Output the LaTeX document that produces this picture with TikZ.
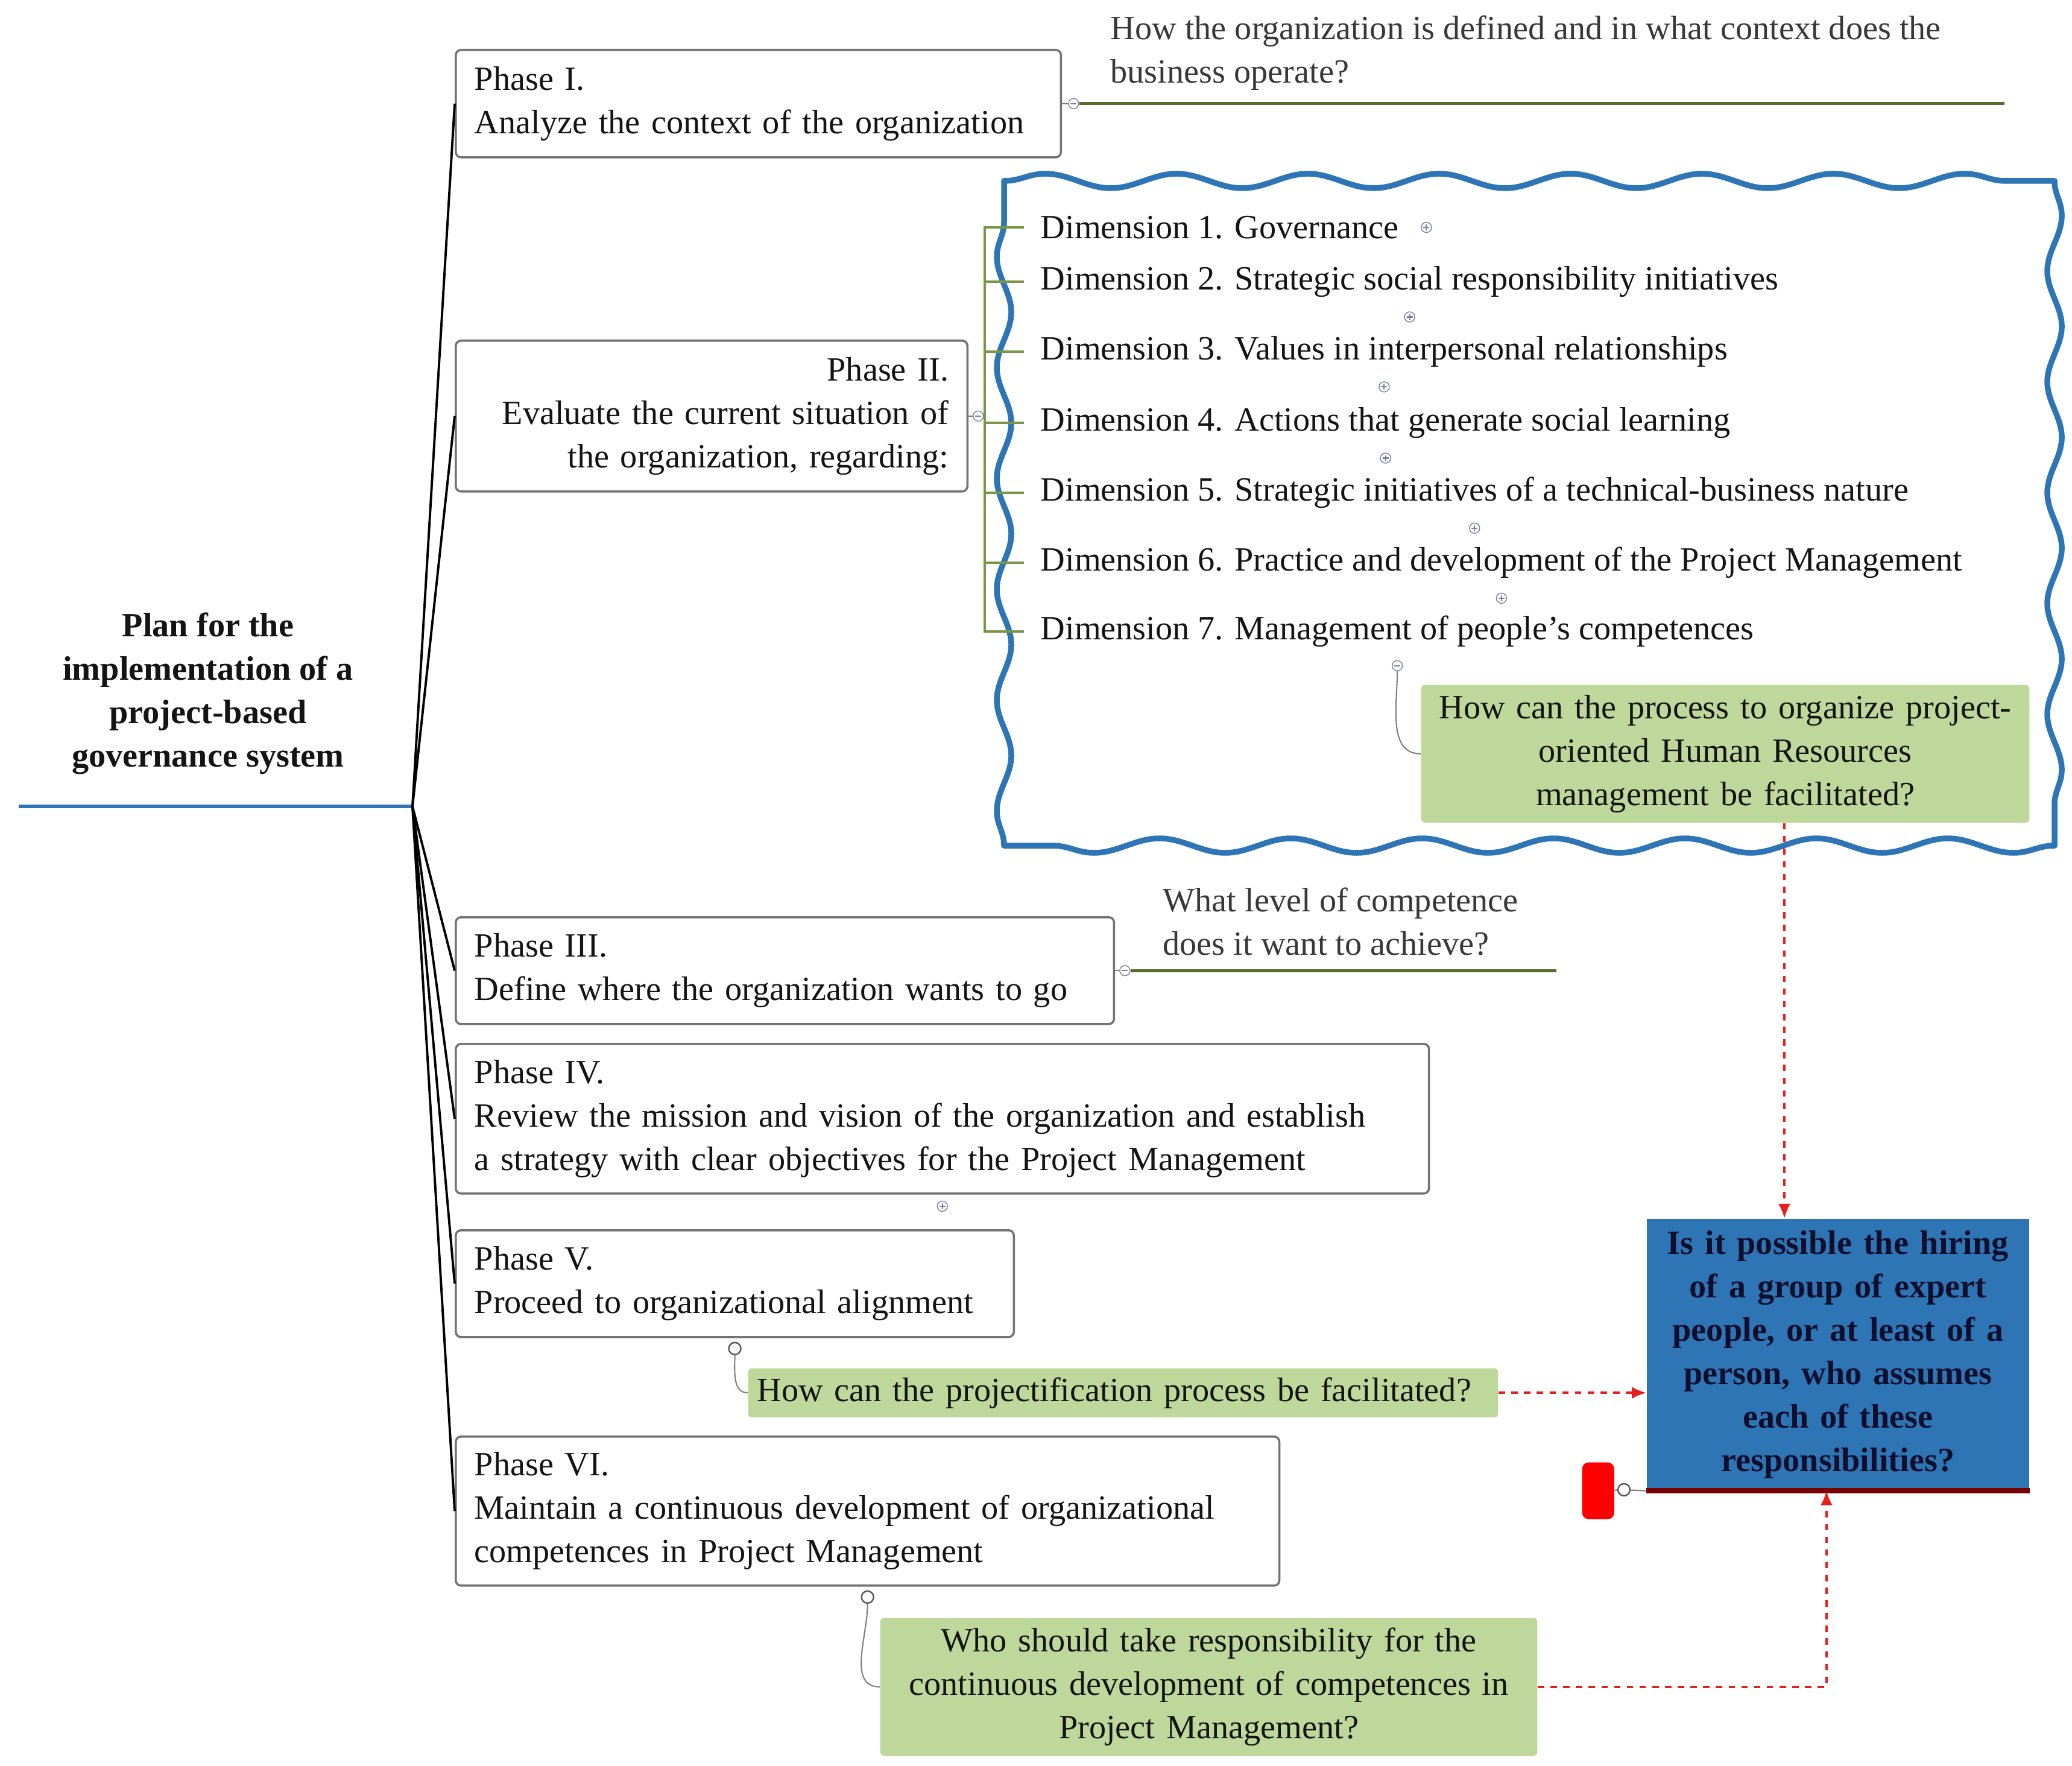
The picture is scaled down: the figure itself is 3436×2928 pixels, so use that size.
\documentclass[tikz,border=0pt]{standalone}
\usepackage{fontspec}
\setmainfont{Liberation Serif}
\usetikzlibrary{positioning,decorations.pathmorphing,arrows.meta}

\definecolor{mapblue}{RGB}{46,117,182}
\definecolor{qgreen}{RGB}{190,215,155}
\definecolor{notegreen}{RGB}{84,108,44}
\definecolor{brackgreen}{RGB}{120,150,70}
\definecolor{linkred}{RGB}{232,30,30}
\definecolor{deepred}{RGB}{120,0,0}
\definecolor{navytext}{RGB}{15,15,45}
\definecolor{boxedge}{RGB}{115,115,115}
\definecolor{markgray}{RGB}{120,130,160}
\newcommand\mapfont{\fontsize{16}{20.5}\selectfont}

\begin{document}
\begin{tikzpicture}[x=0.01cm, y=-0.01cm,
  every node/.style={font=\mapfont, text=black!92},
  phase/.style={draw=boxedge, line width=1pt, rounded corners=2.5pt, fill=white, anchor=north west, inner xsep=0.31cm, inner ysep=0pt, align=left},
  question/.style={fill=qgreen, rounded corners=1.5pt, anchor=north west, inner xsep=0.15cm, inner ysep=0pt, align=center},
  note/.style={anchor=south west, inner sep=0pt, align=left, text=black!78},
  dim/.style={anchor=west, inner xsep=0.27cm, inner ysep=0.03cm},
  hubline/.style={draw, line width=1.1pt},
  brack/.style={draw=brackgreen, line width=0.9pt},
  underl/.style={draw=notegreen, line width=1.5pt},
  link/.style={draw=linkred, dashed, line width=1pt, -{Latex[length=2.4mm,width=2mm]}},
  stem/.style={draw=gray, line width=0.6pt},
  plusmark/.style={circle, draw=markgray, fill=white, inner sep=0pt, minimum size=0.17cm, line width=0.4pt,
    path picture={\draw[markgray, line width=0.6pt] ([xshift=-0.05cm]path picture bounding box.center) -- ([xshift=0.05cm]path picture bounding box.center)
      ([yshift=-0.05cm]path picture bounding box.center) -- ([yshift=0.05cm]path picture bounding box.center);}},
  minusmark/.style={circle, draw=markgray, fill=white, inner sep=0pt, minimum size=0.17cm, line width=0.4pt,
    path picture={\draw[markgray, line width=0.6pt] ([xshift=-0.05cm]path picture bounding box.center) -- ([xshift=0.05cm]path picture bounding box.center);}},
  openmark/.style={circle, draw=black!65, fill=white, inner sep=0pt, minimum size=0.2cm, line width=0.7pt},
  wavy/.style={draw=mapblue, line width=2.7pt, line cap=round, decorate, decoration={snake, amplitude=0.12cm, segment length=#1}}]
\useasboundingbox (0,0) rectangle (3436,2928);

% dimensions frame
\coordinate (fr1) at (1665,300);
\coordinate (fr2) at (3407,300);
\coordinate (fr3) at (3407,1402);
\coordinate (fr4) at (1665,1402);
\draw[wavy=2.1775cm] (fr1) -- (fr2);
\draw[wavy=1.8367cm] (fr2) -- (fr3);
\draw[wavy=2.1775cm] (fr3) -- (fr4);
\draw[wavy=1.8367cm] (fr4) -- (fr1);

% root
\node[font=\mapfont\bfseries, align=center] (root) at (345,1150) {Plan for the\\implementation of a\\project-based\\governance system};
\coordinate (rootend) at (31,1337);
\coordinate (hub) at (684,1337);
\path[draw=mapblue, line width=1.9pt] (rootend) -- (hub);

% phases
\node[phase, text width=9.41cm, minimum height=1.78cm] (ph1) at (754,81) {Phase I.\\Analyze the context of the organization};
\node[phase, text width=7.86cm, minimum height=2.5cm, align=right] (ph2) at (754,563) {Phase II.\\Evaluate the current situation of\\the organization, regarding:};
\node[phase, text width=10.29cm, minimum height=1.77cm] (ph3) at (754,1519) {Phase III.\\Define where the organization wants to go};
\node[phase, text width=15.51cm, minimum height=2.48cm] (ph4) at (754,1729) {Phase IV.\\Review the mission and vision of the organization and establish\\a strategy with clear objectives for the Project Management};
\node[phase, text width=8.63cm, minimum height=1.77cm] (ph5) at (754,2038) {Phase V.\\Proceed to organizational alignment};
\node[phase, text width=13.03cm, minimum height=2.47cm] (ph6) at (754,2380) {Phase VI.\\Maintain a continuous development of organizational\\competences in Project Management};

\path[hubline] (hub) -- (ph1.west);
\path[hubline] (hub) -- (ph2.west);
\path[hubline] (hub) -- (ph3.west);
\path[hubline] (hub) -- (ph4.west);
\path[hubline] (hub) -- (ph5.west);
\path[hubline] (hub) -- (ph6.west);

% notes on phases I and III
\node[minusmark, right=0.1cm of ph1] (mkI) {};
\node[note] (n1) at (1841,150) {How the organization is defined and in what context does the\\business operate?};
\coordinate (n1end) at (3324,170);
\path[stem] (ph1) -- (mkI);
\path[underl] (mkI) -- (mkI -| n1end);

\node[minusmark, right=0.07cm of ph3] (mkIII) {};
\node[note] (n3) at (1928,1585) {What level of competence\\does it want to achieve?};
\coordinate (n3end) at (2581,1607);
\path[stem] (ph3) -- (mkIII);
\path[underl] (mkIII) -- (mkIII -| n3end);

% dimensions
\node[dim] (dim1) at (1698,377) {Dimension 1. Governance};
\node[dim] (dim2) at (1698,467) {Dimension 2. Strategic social responsibility initiatives};
\node[dim] (dim3) at (1698,583) {Dimension 3. Values in interpersonal relationships};
\node[dim] (dim4) at (1698,701) {Dimension 4. Actions that generate social learning};
\node[dim] (dim5) at (1698,817) {Dimension 5. Strategic initiatives of a technical-business nature};
\node[dim] (dim6) at (1698,933) {Dimension 6. Practice and development of the Project Management};
\node[dim] (dim7) at (1698,1047) {Dimension 7. Management of people's competences};

\node[minusmark, right=0.07cm of ph2] (mkII) {};
\coordinate (brk) at (1633,688);
\path[stem] (ph2) -- (mkII);
\path[brack] (mkII) -- (brk);
\path[brack] (dim1.west) -- (dim1.west -| brk) -- (dim7.west -| brk) -- (dim7.west);
\path[brack] (dim2.west -| brk) -- (dim2.west);
\path[brack] (dim3.west -| brk) -- (dim3.west);
\path[brack] (dim4.west -| brk) -- (dim4.west);
\path[brack] (dim5.west -| brk) -- (dim5.west);
\path[brack] (dim6.west -| brk) -- (dim6.west);

\node[plusmark, right=0.09cm of dim1] (mk1) {};
\node[plusmark, below=0.2cm of dim2] (mk2) {};
\node[plusmark, below=0.2cm of dim3] (mk3) {};
\node[plusmark, below=0.2cm of dim4] (mk4) {};
\node[plusmark, below=0.2cm of dim5] (mk5) {};
\node[plusmark, below=0.2cm of dim6] (mk6) {};
\node[minusmark, below=0.18cm of dim7] (mk7) {};

% questions
\node[question, text width=9.78cm, minimum height=2.28cm] (qHR) at (2356,1135) {How can the process to organize project-\\oriented Human Resources\\management be facilitated?};
\path[stem] (mk7) to[out=-90, in=180] (qHR.west);

\node[plusmark, below=0.1cm of ph4] (mkIV) {};

\node[openmark, below=0.06cm of ph5] (mkV) {};
\node[question, text width=12.13cm, minimum height=0.81cm, align=left] (qV) at (1240,2268) {How can the projectification process be facilitated?};
\path[stem] (mkV) to[out=-90, in=180] (qV.west);

\node[openmark, below=0.06cm of ph6] (mkVI) {};
\node[question, text width=10.59cm, minimum height=2.28cm] (qVI) at (1459,2682) {Who should take responsibility for the\\continuous development of competences in\\Project Management?};
\path[stem] (mkVI) to[out=-90, in=180] (qVI.west);

% hiring box
\node[fill=mapblue, anchor=north west, text width=6.04cm, minimum height=4.5cm, inner xsep=0.15cm, inner ysep=0pt, align=center, font=\mapfont\bfseries, text=navytext] (blue) at (2730,2020) {Is it possible the hiring\\of a group of expert\\people, or at least of a\\person, who assumes\\each of these\\responsibilities?};
\path[draw=deepred, line width=2.6pt] (blue.south west) -- (blue.south east);

\node[fill=red, rounded corners=3pt, minimum width=0.53cm, minimum height=0.94cm, inner sep=0pt, anchor=north west] (tag) at (2623,2424) {};
\node[openmark] (mkB) at (2693,2470) {};
\path[stem] (tag) -- (mkB);
\path[stem] (mkB) -- (blue.south west);

% links
\path[link] ([xshift=0.98cm]qHR.south) -- ([xshift=0.98cm]qHR.south |- blue.north);
\path[link] (qV.east) -- (qV.east -| blue.west);
\path[link] (qVI.east) -| ([xshift=-0.19cm]blue.south);
\end{tikzpicture}
\end{document}
